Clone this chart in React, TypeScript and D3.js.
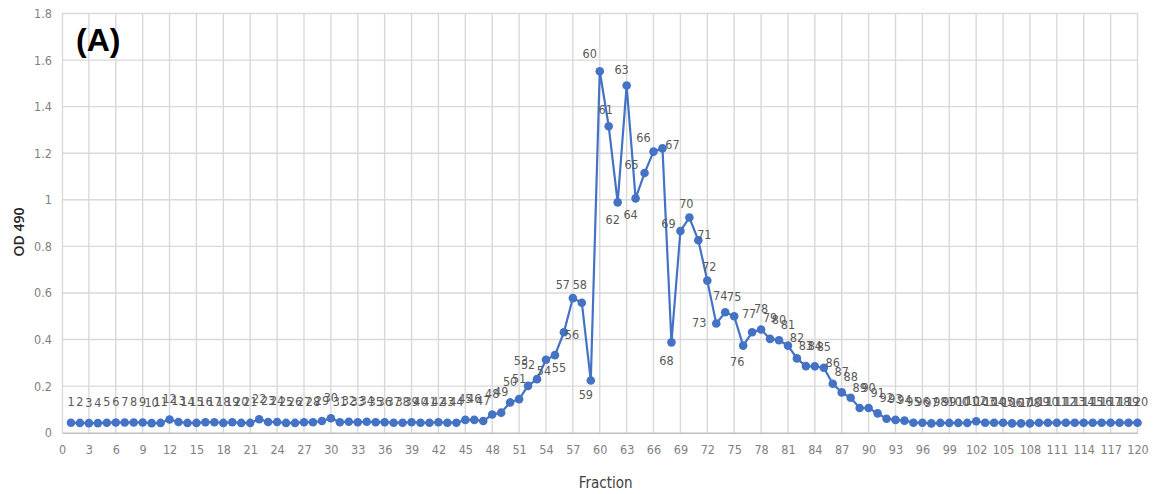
import * as d3 from 'd3'
import { useEffect, useRef } from 'react'

// OD 490 readings per fraction
const fractions: number[] = d3.range(1, 121)
const od490: number[] = [
  0.043, 0.042, 0.041, 0.041, 0.043, 0.044, 0.044, 0.044, 0.044, 0.041,
  0.042, 0.057, 0.046, 0.042, 0.042, 0.045, 0.045, 0.042, 0.045, 0.042,
  0.042, 0.058, 0.046, 0.046, 0.042, 0.042, 0.045, 0.045, 0.05, 0.062,
  0.045, 0.047, 0.045, 0.047, 0.045, 0.045, 0.043, 0.043, 0.045, 0.043,
  0.043, 0.045, 0.043, 0.043, 0.055, 0.055, 0.05, 0.078, 0.086, 0.13,
  0.144, 0.201, 0.23, 0.313, 0.333, 0.431, 0.578, 0.558, 0.224, 1.552,
  1.316, 0.989, 1.491, 1.006, 1.115, 1.207, 1.221, 0.388, 0.866, 0.924,
  0.826, 0.653, 0.469, 0.517, 0.5, 0.374, 0.431, 0.443, 0.403, 0.397,
  0.374, 0.319, 0.286, 0.285, 0.279, 0.21, 0.173, 0.15, 0.106, 0.106,
  0.083, 0.06, 0.055, 0.052, 0.043, 0.043, 0.04, 0.042, 0.042, 0.042,
  0.042, 0.049, 0.043, 0.043, 0.043, 0.04, 0.04, 0.04, 0.043, 0.043,
  0.043, 0.043, 0.043, 0.043, 0.043, 0.043, 0.043, 0.043, 0.043, 0.043,
]
const xTicks: number[] = d3.range(0, 121, 3)
const yTicks: number[] = [0, 0.2, 0.4, 0.6, 0.8, 1, 1.2, 1.4, 1.6, 1.8]

// label nudges (px) for the crowded peak, everything else sits above its point
const labelNudge: Record<number, [number, number]> = {
  53: [-16, -19], 54: [-2, 11], 55: [4, 12], 56: [8, 2], 57: [-10, -14], 58: [-2, -18],
  59: [-5, 14], 60: [-10, -18], 61: [-3, -17], 62: [-5, 17], 63: [-5, -16], 64: [-5, 16],
  65: [-13, -9], 66: [-10, -14], 67: [10, -4], 68: [-5, 18], 69: [-12, -8], 70: [-3, -14],
  71: [6, -6], 72: [2, -14], 73: [-17, -1], 74: [-5, -17], 75: [0, -20], 76: [-6, 16],
  77: [-3, -19],
}

const W = 1153
const H = 494
const blue = '#4472C4'
const tickFont = "'Liberation Sans Narrow', 'DejaVu Sans Condensed', sans-serif"

export default function App() {
  const svgRef = useRef<SVGSVGElement>(null)

  useEffect(() => {
    const x = d3.scaleLinear().domain([0, 120]).range([62, 1137.5])
    const y = d3.scaleLinear().domain([0, 1.8]).range([432.7, 13.5])

    const svg = d3.select(svgRef.current)
    svg.selectAll('*').remove()

    const g = svg.append('g')

    // grid
    g.selectAll('line.hgrid')
      .data(yTicks.slice(1))
      .join('line')
      .attr('class', 'hgrid')
      .attr('x1', x(0)).attr('x2', x(120))
      .attr('y1', d => y(d)).attr('y2', d => y(d))
      .attr('stroke', '#d9d9d9').attr('stroke-width', 1.4)

    g.selectAll('line.vgrid')
      .data(xTicks.slice(1))
      .join('line')
      .attr('class', 'vgrid')
      .attr('x1', d => x(d)).attr('x2', d => x(d))
      .attr('y1', y(0)).attr('y2', y(1.8))
      .attr('stroke', '#d9d9d9').attr('stroke-width', 1.4)

    // axes with the library, then restyled to look like the spreadsheet chart
    const xAxis = g.append('g')
      .attr('transform', `translate(0,${y(0)})`)
      .call(d3.axisBottom(x).tickValues(xTicks).tickSize(0).tickPadding(12).tickFormat(d3.format('d')))
    xAxis.select('.domain').attr('stroke', '#bfbfbf').attr('stroke-width', 1.5)
    xAxis.selectAll('text').attr('fill', '#7f7f7f').style('font-size', '12.5px').style('font-family', tickFont)

    const yAxis = g.append('g')
      .attr('transform', `translate(${x(0)},0)`)
      .call(d3.axisLeft(y).tickValues(yTicks).tickSize(0).tickPadding(10).tickFormat(d => String(+(+d).toFixed(1))))
    yAxis.select('.domain').attr('stroke', '#d9d9d9').attr('stroke-width', 1.4)
    yAxis.selectAll('text').attr('fill', '#7f7f7f').style('font-size', '12.5px').style('font-family', tickFont)

    // series
    const pts = fractions.map((f, i) => ({ f, v: od490[i] }))
    const line = d3.line<{ f: number; v: number }>().x(d => x(d.f)).y(d => y(d.v))

    g.append('path')
      .datum(pts)
      .attr('d', line)
      .attr('fill', 'none')
      .attr('stroke', blue)
      .attr('stroke-width', 2.2)

    g.selectAll('circle.pt')
      .data(pts)
      .join('circle')
      .attr('class', 'pt')
      .attr('cx', d => x(d.f)).attr('cy', d => y(d.v))
      .attr('r', 4.3)
      .attr('fill', blue)

    // data labels
    g.selectAll('text.lbl')
      .data(pts)
      .join('text')
      .attr('class', 'lbl')
      .attr('x', d => x(d.f) + (labelNudge[d.f] ? labelNudge[d.f][0] : 0))
      .attr('y', d => y(d.v) + (labelNudge[d.f] ? labelNudge[d.f][1] : -21))
      .attr('text-anchor', 'middle')
      .attr('dominant-baseline', 'central')
      .attr('fill', '#595959')
      .style('font-size', '12.5px')
      .style('font-family', tickFont)
      .text(d => d.f)

    // titles
    g.append('text')
      .attr('x', x(60) + 6).attr('y', 483)
      .attr('text-anchor', 'middle').attr('dominant-baseline', 'central')
      .attr('fill', '#404040')
      .style('font-size', '15px').style('font-family', tickFont)
      .text('Fraction')

    g.append('text')
      .attr('transform', 'translate(18,232) rotate(-90)')
      .attr('text-anchor', 'middle').attr('dominant-baseline', 'central')
      .attr('fill', '#262626')
      .style('font-size', '14px').style('font-weight', 600)
      .style('font-family', "'Open Sans', sans-serif")
      .text('OD 490')

    g.append('text')
      .attr('x', 76).attr('y', 40)
      .attr('dominant-baseline', 'central')
      .attr('fill', '#000')
      .style('font-size', '32px').style('font-weight', 700)
      .style('font-family', "'Liberation Sans', Arial, sans-serif")
      .text('(A)')
  }, [])

  return (
    <svg ref={svgRef} width={W} height={H}
      style={{ position: 'absolute', left: 0, top: 0, background: '#fff' }} />
  )
}
